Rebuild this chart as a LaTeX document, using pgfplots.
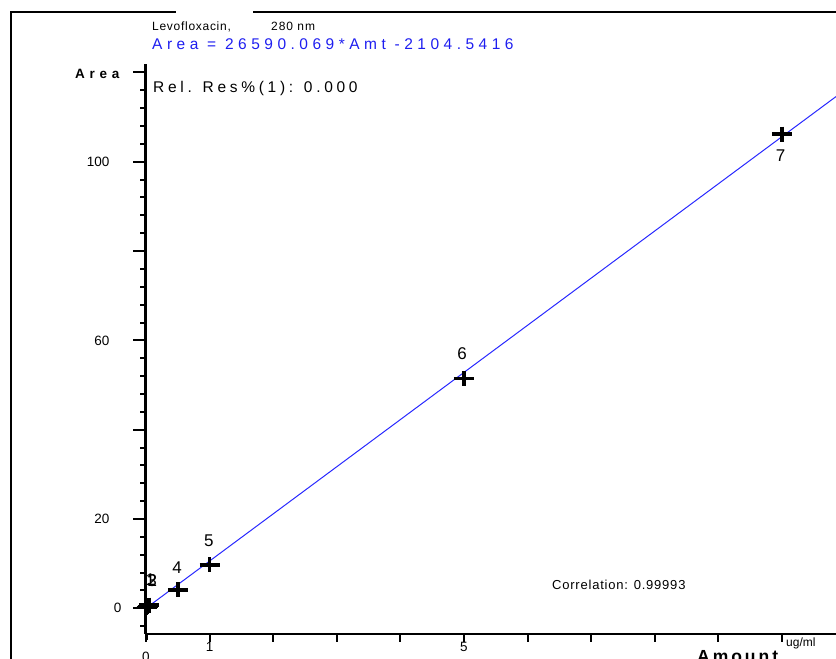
\documentclass[border=0pt]{standalone}
\usepackage{fontspec}
\setmainfont{Liberation Sans}
\usepackage{pgfplots}
\pgfplotsset{compat=1.18}
\definecolor{eqblue}{RGB}{30,30,240}
\definecolor{lineblue}{RGB}{40,40,255}
\begin{document}
\begin{tikzpicture}
\useasboundingbox (0pt,0pt) rectangle (836pt,659pt);
% frame
\draw[line width=2pt] (10.7pt,-5pt) -- (10.7pt,646.5pt) -- (176pt,646.5pt);
\draw[line width=2pt] (253pt,646.5pt) -- (845pt,646.5pt);
% titles
\node[anchor=base west, inner sep=0pt] at (152pt,628pt) {\fontsize{12}{14}\selectfont\addfontfeature{LetterSpace=6}Levofloxacin,};
\node[anchor=base west, inner sep=0pt] at (271pt,628pt) {\fontsize{12}{14}\selectfont\addfontfeature{LetterSpace=8}280 nm};
\node[anchor=base west, inner sep=0pt, text=eqblue] at (152pt,609pt) {\fontsize{15.5}{17}\selectfont\addfontfeature{LetterSpace=29}Area = 26590.069*Amt -2104.5416};
\node[anchor=base west, inner sep=0pt] at (75pt,580pt) {\fontsize{13.5}{15}\selectfont\bfseries\addfontfeature{LetterSpace=35}Area};
\node[anchor=base west, inner sep=0pt] at (153pt,566pt) {\fontsize{15.5}{17}\selectfont\addfontfeature{LetterSpace=24}Rel. Res\%(1): 0.000};
\node[anchor=base west, inner sep=0pt] at (552pt,69pt) {\fontsize{13}{15}\selectfont\addfontfeature{LetterSpace=6}Correlation: 0.99993};
\node[anchor=base west, inner sep=0pt] at (697pt,-4pt) {\fontsize{17.5}{19}\selectfont\bfseries\addfontfeature{LetterSpace=17}Amount};
\node[anchor=base west, inner sep=0pt] at (786pt,12pt) {\fontsize{12}{14}\selectfont ug/ml};
\node[inner sep=0pt, font=\fontsize{13.5}{15}\selectfont] at (146pt,2pt) {0};
\begin{axis}[
  at={(146pt,25pt)}, anchor=south west,
  scale only axis, width=690pt, height=570pt,
  xmin=0, xmax=10.85, ymin=-5.76, ymax=121.9,
  axis lines=left, axis line style={-},
  x axis line style={line width=1.2pt},
  y axis line style={line width=3pt},
  tick align=outside,
  major tick length=13pt, minor tick length=6pt,
  xtick={0,1,2,3,4,5,6,7,8,9,10},
  xticklabels={,1,,,,5,,,,,},
  xtick style={line width=2pt, black, /pgfplots/major tick length=8pt},
  ytick={0,20,40,60,80,100,120},
  yticklabels={0\hspace*{-12pt},20,,60,,100,},
  minor ytick={-4,4,8,12,16,24,28,32,36,44,48,52,56,64,68,72,76,84,88,92,96,104,108,112,116},
  ytick style={line width=2pt, black},
  every minor tick/.append style={line width=1.6pt},
  /pgf/number format/assume math mode=true,
  ticklabel style={font=\fontsize{13.5}{15}\selectfont},
  xticklabel style={yshift=8pt},
  yticklabel style={xshift=-20pt},
]
\addplot[lineblue, line width=1pt, no marks] coordinates {(0.05,0.55) (10.85,114.6)};
\addplot[only marks, line width=3.5pt, mark=+, mark size=7.5pt, mark options={line width=3.5pt, xscale=1.33, black}] coordinates {
(0.01,0.2) (0.025,0.4) (0.05,0.7) (0.5,4.1) (1,9.7) (5,51.5) (10,106.2)};
\node[font=\fontsize{17}{19}\selectfont] at (axis cs:9.98,101.3) {7};
\node[font=\fontsize{17}{19}\selectfont] at (axis cs:4.97,57.0) {6};
\node[font=\fontsize{17}{19}\selectfont] at (axis cs:0.99,15.1) {5};
\node[font=\fontsize{17}{19}\selectfont] at (axis cs:0.49,9.0) {4};
\node[font=\fontsize{17}{19}\selectfont] at (axis cs:0.07,6.3) {1};
\node[font=\fontsize{17}{19}\selectfont] at (axis cs:0.1,6.3) {2};
\node[font=\fontsize{17}{19}\selectfont] at (axis cs:0.094,6.3) {3};
\end{axis}
\draw[line width=3pt] (146pt,25pt) -- (146pt,19pt);
\end{tikzpicture}
\end{document}
